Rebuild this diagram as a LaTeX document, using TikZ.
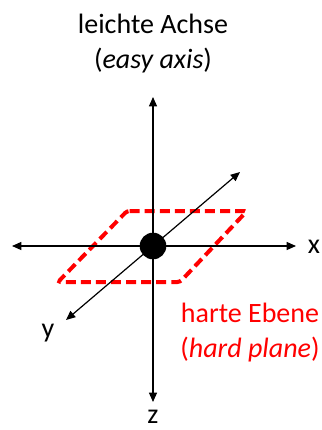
\documentclass[tikz,border=0pt]{standalone}
\usepackage{fontspec}
\setmainfont{Carlito}
\usetikzlibrary{arrows.meta}
\definecolor{planered}{HTML}{FF0000}

\begin{document}
\begin{tikzpicture}[x=0.75pt, y=-0.75pt, every node/.style={font=\fontsize{21}{25}\selectfont, inner sep=0pt},
    axis/.style={-{Triangle[length=7pt,width=6pt]}, line width=0.9pt},
    plane/.style={draw=planered, line width=3pt, dash pattern=on 7.5pt off 3.8pt, rounded corners=2pt}]
    \useasboundingbox (0,0) rectangle (322,430);

    % origin and axis ends
    \coordinate (o) at (153,246);
    \coordinate (ztop) at (153,97);
    \coordinate (zbot) at (153,402);
    \coordinate (xl) at (12,246);
    \coordinate (xr) at (296,246);
    \coordinate (yb) at (240,172);
    \coordinate (yf) at (66,320);

    % hard plane
    \draw[plane] (127,211) -- (247,211) -- (180,282) -- (58,282) -- cycle;

    % axes
    \draw[axis] (o) -- (ztop);
    \draw[axis] (o) -- (zbot);
    \draw[axis] (o) -- (xl);
    \draw[axis] (o) -- (xr);
    \draw[axis] (o) -- (yb);
    \draw[axis] (o) -- (yf);

    \node[circle, fill=black, minimum size=20pt] (dot) at (o) {};

    % labels
    \node[anchor=base] (easy) at (153,33) {leichte Achse};
    \node[anchor=base] (easyen) at (153,68) {(\textit{easy axis})};
    \node[anchor=base] (xlab) at (314,253) {x};
    \node[anchor=base] (ylab) at (48,337) {y};
    \node[anchor=base] (zlab) at (153,423) {z};
    \node[anchor=base, text=planered] (hard) at (250,322) {harte Ebene};
    \node[anchor=base, text=planered] (harden) at (250,357) {(\textit{hard plane})};
\end{tikzpicture}
\end{document}
